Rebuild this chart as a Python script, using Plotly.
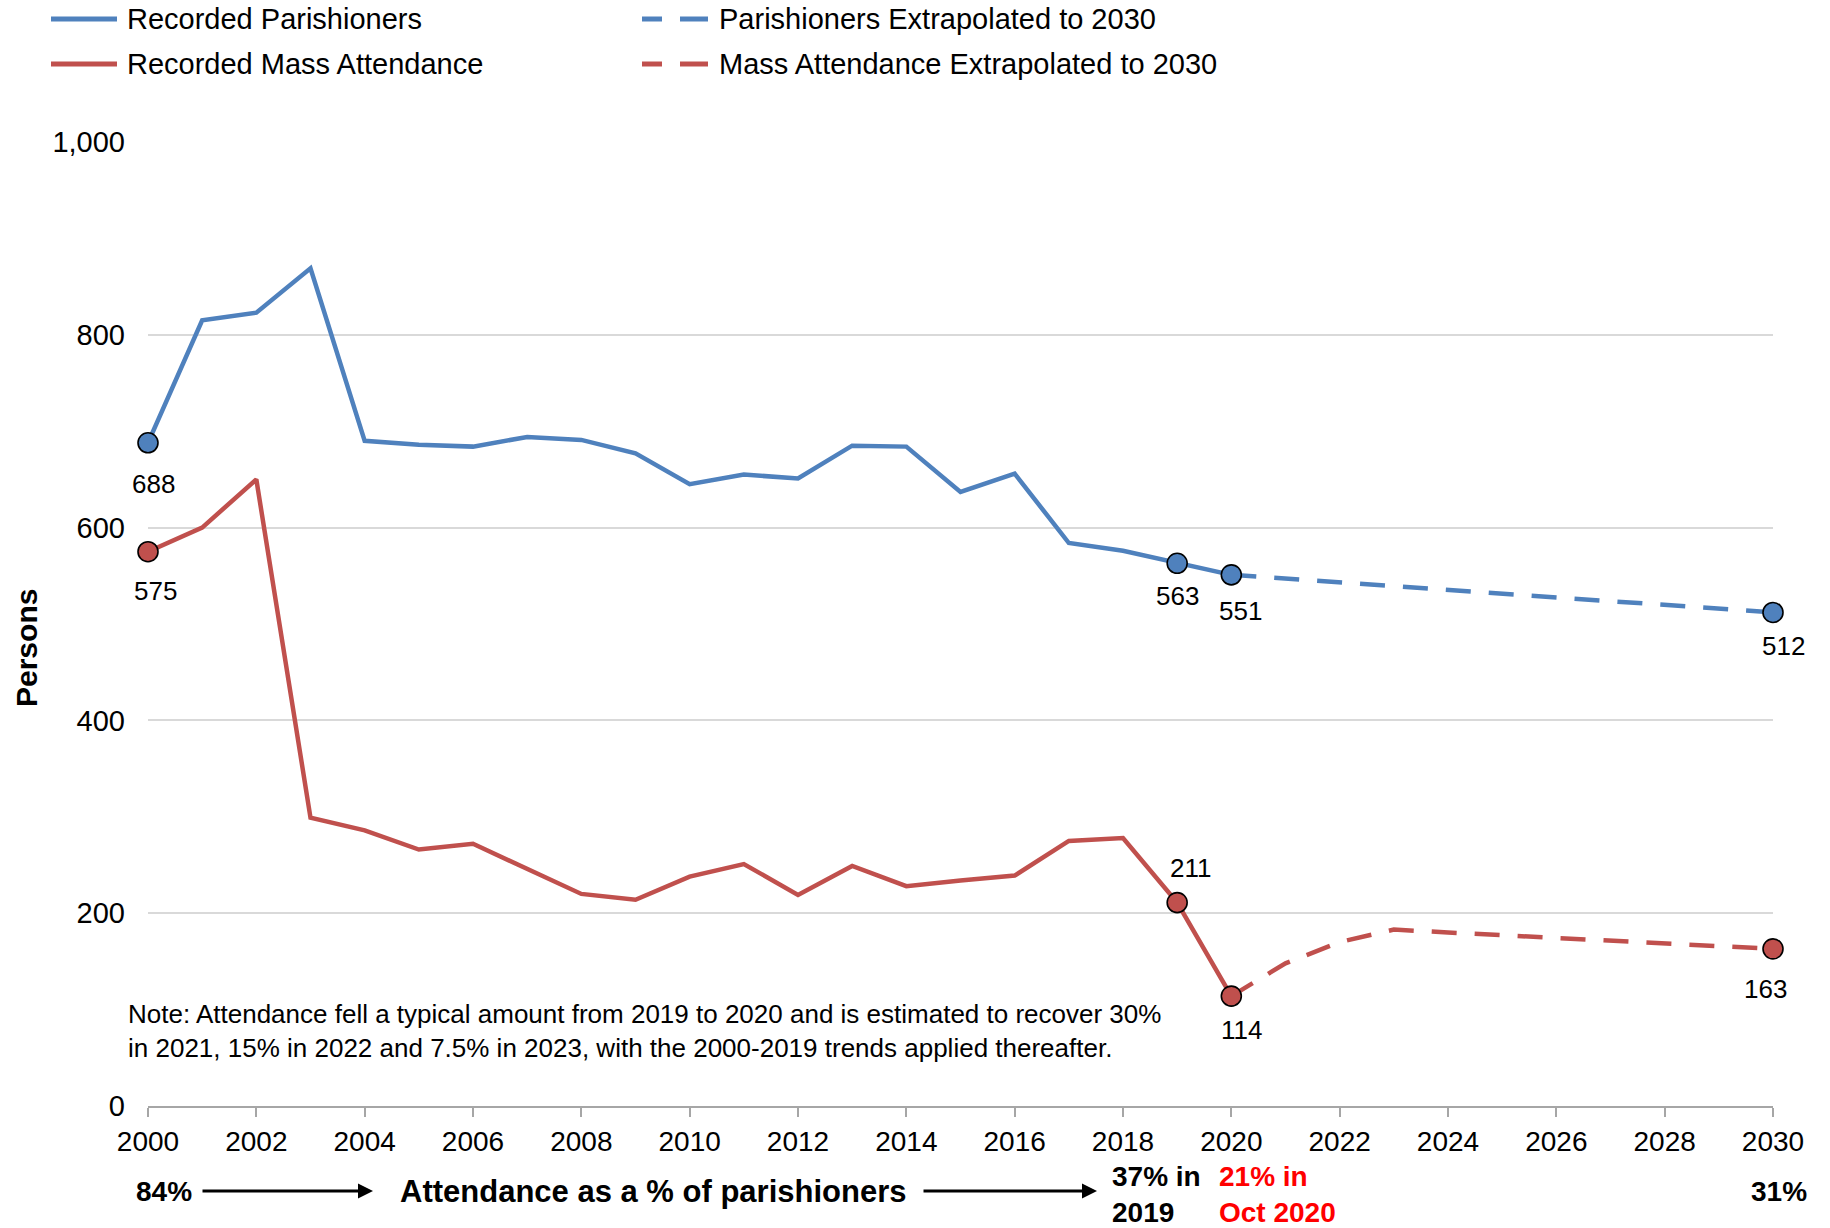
import plotly.graph_objects as go

# ---------------- data ----------------
years_recorded = list(range(2000, 2021))
parishioners_recorded = [688, 815, 823, 869, 690, 686, 684, 694, 691, 677, 645,
                         655, 651, 685, 684, 637, 656, 584, 576, 563, 551]
mass_recorded = [575, 600, 650, 299, 286, 266, 272, 246, 220, 214, 238,
                 251, 219, 249, 228, 234, 239, 275, 278, 211, 114]

years_extrap = list(range(2020, 2031))
parishioners_extrap = [551, 547, 543, 540, 535, 531, 528, 524, 520, 516, 512]
mass_extrap = [114, 148, 170, 183, 180, 177, 174, 171, 168, 166, 163]

marked_years_recorded = [2000, 2019, 2020]
marked_years_extrap = [2030]

x_ticks = list(range(2000, 2031, 2))
y_ticks = [0, 200, 400, 600, 800, 1000]

legend_names = ["Recorded Parishioners", "Parishioners Extrapolated to 2030",
                "Recorded Mass Attendance", "Mass Attendance Extrapolated to 2030"]

note_text = ("Note: Attendance fell a typical amount from 2019 to 2020 and is estimated to recover 30%<br>"
             "in 2021, 15% in 2022 and 7.5% in 2023, with the 2000-2019 trends applied thereafter.")

# ---------------- style ----------------
BLUE = "#4F81BD"
RED = "#C0504D"
FONT = "Liberation Sans, Arial, sans-serif"
W, H = 1830, 1228
L, R, T, B = 148, 57, 142, 122
PW, PH = W - L - R, H - T - B


def px(xp):
    return (xp - L) / PW


def py(yp):
    return (H - B - yp) / PH


fig = go.Figure()

# lines
fig.add_trace(go.Scatter(x=years_recorded, y=parishioners_recorded, mode="lines",
                         line=dict(color=BLUE, width=4.5), cliponaxis=False, showlegend=False))
fig.add_trace(go.Scatter(x=years_extrap, y=parishioners_extrap, mode="lines",
                         line=dict(color=BLUE, width=4.5, dash="25px,18px"), cliponaxis=False, showlegend=False))
fig.add_trace(go.Scatter(x=years_recorded, y=mass_recorded, mode="lines",
                         line=dict(color=RED, width=4.5), cliponaxis=False, showlegend=False))
fig.add_trace(go.Scatter(x=years_extrap, y=mass_extrap, mode="lines",
                         line=dict(color=RED, width=4.5, dash="25px,18px"), cliponaxis=False, showlegend=False))


def pick(years, vals, sel):
    d = dict(zip(years, vals))
    return [d[s] for s in sel]


for col, yr, vr, ye, ve in [(BLUE, years_recorded, parishioners_recorded, years_extrap, parishioners_extrap),
                            (RED, years_recorded, mass_recorded, years_extrap, mass_extrap)]:
    mx = marked_years_recorded + marked_years_extrap
    my = pick(yr, vr, marked_years_recorded) + pick(ye, ve, marked_years_extrap)
    fig.add_trace(go.Scatter(x=mx, y=my, mode="markers",
                             marker=dict(color=col, size=20, line=dict(color="black", width=1.6)),
                             cliponaxis=False, showlegend=False))

# data labels (value from arrays, shifts are style)
label_specs = [
    (years_recorded, parishioners_recorded, 2000, 5, -41),
    (years_recorded, parishioners_recorded, 2019, 0, -33),
    (years_recorded, parishioners_recorded, 2020, 9, -36),
    (years_extrap, parishioners_extrap, 2030, 10, -34),
    (years_recorded, mass_recorded, 2000, 7, -39),
    (years_recorded, mass_recorded, 2019, 13, 35),
    (years_recorded, mass_recorded, 2020, 10, -34),
    (years_extrap, mass_extrap, 2030, -8, -40),
]
annotations = []
for yrs, vals, yr, xs, ys in label_specs:
    v = dict(zip(yrs, vals))[yr]
    annotations.append(dict(x=yr, y=v, text=f"{v}", showarrow=False, xshift=xs, yshift=ys,
                            font=dict(family=FONT, size=26, color="black")))

# note
annotations.append(dict(xref="paper", yref="paper", x=px(126), y=py(1031), xanchor="left", yanchor="middle",
                        align="left", text=note_text, showarrow=False,
                        font=dict(family=FONT, size=26, color="black")))

# y axis title
annotations.append(dict(xref="paper", yref="paper", x=px(26), y=py(648), text="<b>Persons</b>",
                        textangle=-90, showarrow=False, xanchor="center", yanchor="middle",
                        font=dict(family=FONT, size=30, color="black")))

# bottom annotations
bold = dict(family=FONT, size=28, color="black")
annotations += [
    dict(xref="paper", yref="paper", x=px(164), y=py(1191), text="<b>84%</b>", showarrow=False,
         xanchor="center", yanchor="middle", font=bold),
    dict(xref="paper", yref="paper", x=px(653), y=py(1191), text="<b>Attendance as a % of parishioners</b>",
         showarrow=False, xanchor="center", yanchor="middle", font=dict(family=FONT, size=31, color="black")),
    dict(xref="paper", yref="paper", x=px(1110), y=py(1194), text="<b>37% in<br>2019</b>", showarrow=False,
         xanchor="left", yanchor="middle", align="left", font=bold),
    dict(xref="paper", yref="paper", x=px(1217), y=py(1194), text="<b>21% in<br>Oct 2020</b>", showarrow=False,
         xanchor="left", yanchor="middle", align="left", font=dict(family=FONT, size=28, color="#FF0000")),
    dict(xref="paper", yref="paper", x=px(1809), y=py(1191), text="<b>31%</b>", showarrow=False,
         xanchor="right", yanchor="middle", font=bold),
    dict(xref="paper", yref="paper", x=px(373), y=py(1191), ax=-172, ay=0, text="", showarrow=True,
         arrowhead=2, arrowsize=1, arrowwidth=3, arrowcolor="black"),
    dict(xref="paper", yref="paper", x=px(1097), y=py(1191), ax=-175, ay=0, text="", showarrow=True,
         arrowhead=2, arrowsize=1, arrowwidth=3, arrowcolor="black"),
]

# manual legend
shapes = []
legend_rows = [py(19), py(19), py(64), py(64)]
legend_cols = [(51, 125, False), (642, 717, True), (51, 125, False), (642, 717, True)]
legend_colors = [BLUE, BLUE, RED, RED]
for name, yy, (x0, xt, dashed), col in zip(legend_names, legend_rows, legend_cols, legend_colors):
    if dashed:
        shapes.append(dict(type="line", xref="paper", yref="paper", x0=px(x0), x1=px(x0 + 20), y0=yy, y1=yy,
                           line=dict(color=col, width=5)))
        shapes.append(dict(type="line", xref="paper", yref="paper", x0=px(x0 + 38), x1=px(x0 + 66), y0=yy, y1=yy,
                           line=dict(color=col, width=5)))
    else:
        shapes.append(dict(type="line", xref="paper", yref="paper", x0=px(x0), x1=px(x0 + 66), y0=yy, y1=yy,
                           line=dict(color=col, width=5)))
    annotations.append(dict(xref="paper", yref="paper", x=px(xt), y=yy, text=name, showarrow=False,
                            xanchor="left", yanchor="middle", font=dict(family=FONT, size=29, color="black")))

fig.update_layout(
    width=W, height=H,
    margin=dict(l=L, r=R, t=T, b=B, pad=0),
    paper_bgcolor="white", plot_bgcolor="white",
    font=dict(family=FONT, size=28, color="black"),
    showlegend=False,
    annotations=annotations,
    shapes=shapes,
    xaxis=dict(range=[2000, 2030], tickvals=x_ticks, ticktext=[str(t) for t in x_ticks],
               showgrid=False, zeroline=False, showline=True, linecolor="#A6A6A6", linewidth=2,
               ticks="outside", ticklen=9, tickwidth=2, tickcolor="#A6A6A6", ticklabelstandoff=0,
               tickfont=dict(family=FONT, size=28, color="black")),
    yaxis=dict(range=[0, 1000], tickvals=y_ticks, ticktext=[f"{t:,}" for t in y_ticks],
               showgrid=True, gridcolor="#D9D9D9", gridwidth=1.5, zeroline=False, showline=False,
               ticks="", ticklabelstandoff=22,
               tickfont=dict(family=FONT, size=29, color="black")),
)

fig.write_html("out.html", config={"displayModeBar": False},
               post_script="document.body.style.margin='0';document.body.style.overflow='hidden';")
